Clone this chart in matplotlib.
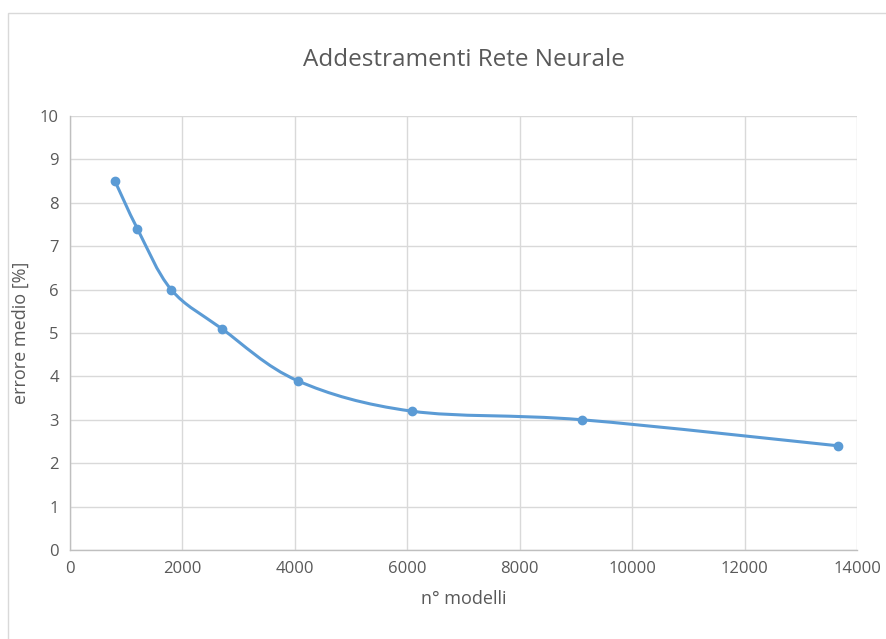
import numpy as np
import matplotlib.pyplot as plt
from matplotlib.path import Path
from matplotlib.patches import PathPatch, Rectangle

# dati
n_modelli = [800, 1200, 1800, 2700, 4050, 6075, 9112.5, 13668.75]
errore_medio = [8.5, 7.4, 6.0, 5.1, 3.9, 3.2, 3.0, 2.4]

BLU = '#5B9BD5'
TESTO = '#595959'
GRIGLIA = '#D9D9D9'


def smooth_path(x, y):
    # curva liscia tipo Excel (Bezier cubica, Catmull-Rom)
    p = np.column_stack([x, y]).astype(float)
    n = len(p)
    verts = [p[0]]
    codes = [Path.MOVETO]
    for i in range(n - 1):
        p0 = p[i - 1] if i > 0 else p[i]
        p1 = p[i]
        p2 = p[i + 1]
        p3 = p[i + 2] if i + 2 < n else p[i + 1]
        c1 = p1 + (p2 - p0) / 6
        c2 = p2 - (p3 - p1) / 6
        verts += [c1, c2, p2]
        codes += [Path.CURVE4] * 3
    return Path(verts, codes)


def main():
    plt.rcParams['font.family'] = ['Open Sans', 'DejaVu Sans']
    fig = plt.figure(figsize=(8.86, 6.39), dpi=100)
    fig.patches.append(Rectangle((8 / 886, -0.1), 1.2, 1 - 13 / 639 + 0.1,
                                 transform=fig.transFigure, fill=False,
                                 edgecolor='#D9D9D9', linewidth=1))
    ax = fig.add_axes([70 / 886, 1 - 550 / 639, 787 / 886, 434 / 639])

    ax.add_patch(PathPatch(smooth_path(n_modelli, errore_medio), facecolor='none',
                           edgecolor=BLU, linewidth=2.2, capstyle='round', zorder=3))
    ax.plot(n_modelli, errore_medio, 'o', color=BLU, markersize=6, zorder=4)

    ax.set_xlim(0, 14000)
    ax.set_ylim(0, 10)
    ax.set_xticks(np.arange(0, 14001, 2000))
    ax.set_yticks(np.arange(0, 11, 1))
    ax.grid(color=GRIGLIA, linewidth=1)
    ax.set_axisbelow(True)
    for s in ['top', 'right']:
        ax.spines[s].set_visible(False)
    for s in ['left', 'bottom']:
        ax.spines[s].set_color('#BFBFBF')
        ax.spines[s].set_linewidth(1)
    ax.tick_params(length=0, labelsize=12, labelcolor=TESTO, pad=8)

    ax.set_xlabel('n° modelli', fontsize=13, color=TESTO, labelpad=9)
    ax.set_ylabel('errore medio [%]', fontsize=13, color=TESTO, labelpad=7)
    ax.set_title('Addestramenti Rete Neurale', fontsize=17.5, color=TESTO, pad=36)

    fig.savefig('out.png', dpi=100)


if __name__ == "__main__":
    main()
